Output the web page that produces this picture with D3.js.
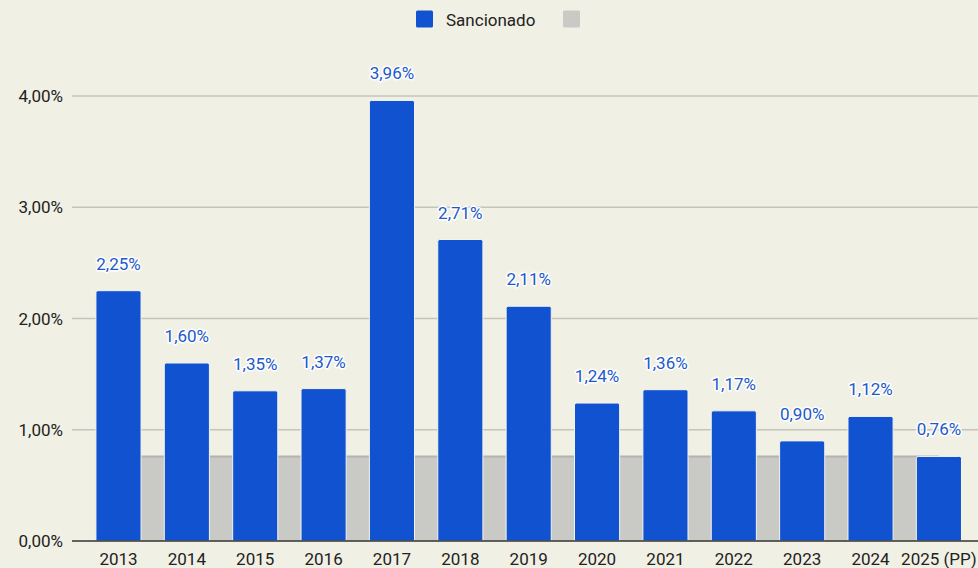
<!DOCTYPE html>
<html>
<head>
<meta charset="utf-8">
<script src="https://cdn.jsdelivr.net/npm/d3@7"></script>
<style>
  body { margin: 0; background: #f1f0e4; }
  svg { display: block; font-family: Roboto, 'Noto Sans', sans-serif; }
</style>
</head>
<body>
<div id="chart"></div>
<script>
let years = ['2013', '2014', '2015', '2016', '2017', '2018', '2019', '2020', '2021', '2022', '2023', '2024', '2025 (PP)']
let sancionado = [2.25, 1.6, 1.35, 1.37, 3.96, 2.71, 2.11, 1.24, 1.36, 1.17, 0.9, 1.12, 0.76]
let referencia = [0.76, 0.76, 0.76, 0.76, 0.76, 0.76, 0.76, 0.76, 0.76, 0.76, 0.76, 0.76, 0.76]
let yTicks = [0, 1, 2, 3, 4]
let seriesNames = ['Sancionado', '']

let width = 978
let height = 568

let svg = d3
  .select('#chart')
  .append('svg')
  .attr('width', width)
  .attr('height', height)

svg.append('rect').attr('width', width).attr('height', height).attr('fill', '#f1f0e4')

let xPositionScale = d3
  .scaleBand()
  .domain(years)
  .range([84.3, 973.1])
  .paddingInner(0.34)
  .paddingOuter(0.17)

let yPositionScale = d3.scaleLinear().domain([0, 4]).range([541, 96])

let fmt = v => d3.format('.2f')(v).replace('.', ',') + '%'

// gridlines
svg
  .selectAll('.grid')
  .data(yTicks.filter(d => d > 0))
  .enter()
  .append('line')
  .attr('x1', 72)
  .attr('x2', width)
  .attr('y1', d => yPositionScale(d))
  .attr('y2', d => yPositionScale(d))
  .attr('stroke', '#c4c4bd')
  .attr('stroke-width', 1.5)

// y labels
svg
  .selectAll('.y-label')
  .data(yTicks)
  .enter()
  .append('text')
  .attr('x', 63)
  .attr('y', d => yPositionScale(d))
  .attr('dy', '0.36em')
  .attr('text-anchor', 'end')
  .attr('font-size', 17)
  .attr('fill', '#222')
  .text(d => fmt(d))

// grey reference area
let cx = d => xPositionScale(d) + xPositionScale.bandwidth() / 2
let area = d3
  .area()
  .x((d, i) => cx(years[i]))
  .y0(yPositionScale(0))
  .y1(d => yPositionScale(d))
let topLine = d3
  .line()
  .x((d, i) => cx(years[i]))
  .y(d => yPositionScale(d))

svg.append('path').datum(referencia).attr('d', area).attr('fill', '#c9cac6')
svg
  .append('path')
  .datum(referencia)
  .attr('d', topLine)
  .attr('fill', 'none')
  .attr('stroke', '#b3b4b0')
  .attr('stroke-width', 2)

// bars with rounded tops
function barPath(x, y, w, h, r) {
  return 'M' + x + ',' + (y + h) +
    'V' + (y + r) +
    'Q' + x + ',' + y + ' ' + (x + r) + ',' + y +
    'H' + (x + w - r) +
    'Q' + (x + w) + ',' + y + ' ' + (x + w) + ',' + (y + r) +
    'V' + (y + h) + 'Z'
}

svg
  .selectAll('.bar')
  .data(sancionado)
  .enter()
  .append('path')
  .attr('class', 'bar')
  .attr('d', (d, i) => {
    let x = xPositionScale(years[i])
    let y = yPositionScale(d)
    return barPath(x, y, xPositionScale.bandwidth(), yPositionScale(0) - y, 2)
  })
  .attr('fill', '#1152d1')
  .attr('stroke', '#f4f4ee')
  .attr('stroke-width', 1)

// value labels
svg
  .selectAll('.value-label')
  .data(sancionado)
  .enter()
  .append('text')
  .attr('x', (d, i) => cx(years[i]))
  .attr('y', d => yPositionScale(d) - 21)
  .attr('text-anchor', 'middle')
  .attr('font-size', 17)
  .attr('fill', '#2059c9')
  .attr('stroke', '#ffffff')
  .attr('stroke-width', 3)
  .attr('stroke-linejoin', 'round')
  .attr('paint-order', 'stroke')
  .text(d => fmt(d))

// baseline axis
svg
  .append('line')
  .attr('x1', 72)
  .attr('x2', width)
  .attr('y1', yPositionScale(0))
  .attr('y2', yPositionScale(0))
  .attr('stroke', '#333')
  .attr('stroke-width', 1.5)

// x labels
svg
  .selectAll('.x-label')
  .data(years)
  .enter()
  .append('text')
  .attr('x', d => cx(d))
  .attr('y', 565)
  .attr('text-anchor', 'middle')
  .attr('font-size', 17)
  .attr('fill', '#222')
  .text(d => d)

// legend
let legendColors = ['#1152d1', '#c9cac6']
let legendX = [416, 563]
seriesNames.forEach((name, i) => {
  svg
    .append('rect')
    .attr('x', legendX[i])
    .attr('y', 10.5)
    .attr('width', 17)
    .attr('height', 17)
    .attr('rx', 1.5)
    .attr('fill', legendColors[i])
  if (name) {
    svg
      .append('text')
      .attr('x', legendX[i] + 30)
      .attr('y', 19.5)
      .attr('dy', '0.36em')
      .attr('font-size', 17)
      .attr('fill', '#222')
      .text(name)
  }
})
</script>
</body>
</html>
